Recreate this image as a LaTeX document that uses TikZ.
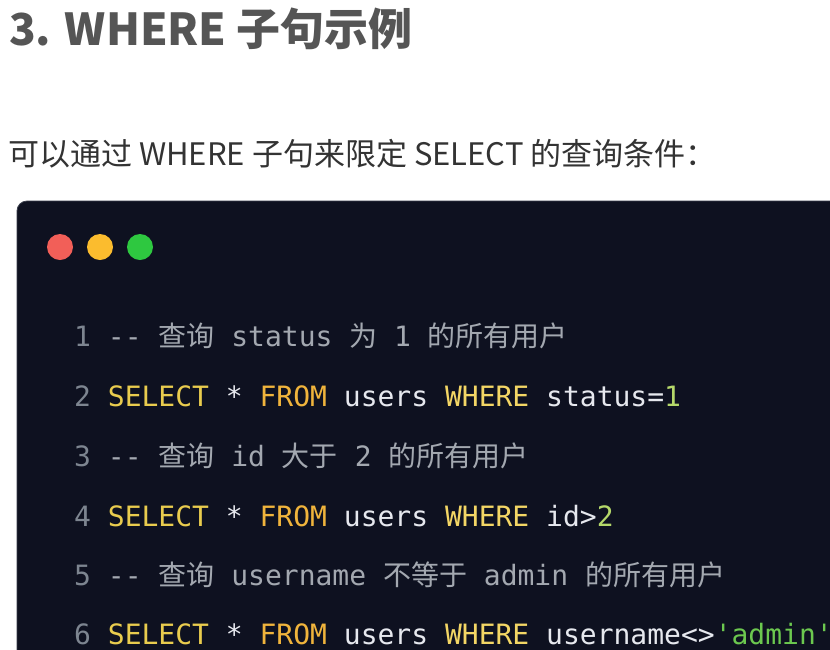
\documentclass[tikz,border=0pt]{standalone}
\usepackage{fontspec}
\setmonofont{DejaVu Sans Mono}
\newfontfamily\cjk{Noto Sans CJK SC}
\definecolor{titlec}{HTML}{555555}
\definecolor{subc}{HTML}{333333}
\definecolor{boxc}{HTML}{0E1120}
\definecolor{boxedge}{HTML}{3A3E4C}
\definecolor{lnc}{HTML}{7D8590}
\definecolor{cmc}{HTML}{A3A8B0}
\definecolor{kwsel}{HTML}{E9CC4E}
\definecolor{kwfrom}{HTML}{F0B43C}
\definecolor{kwwhere}{HTML}{F3D665}
\definecolor{plainc}{HTML}{E6E8EE}
\definecolor{numc}{HTML}{B5D86A}
\definecolor{strc}{HTML}{6CC84F}
\definecolor{dotr}{HTML}{F25F58}
\definecolor{doty}{HTML}{FBBC2E}
\definecolor{dotg}{HTML}{2EC840}
\newcommand{\cz}[1]{{\cjk #1}}
\newcommand{\lnum}[1]{\textcolor{lnc}{#1}}
\newcommand{\kS}{\textcolor{kwsel}{SELECT}}
\newcommand{\kF}{\textcolor{kwfrom}{FROM}}
\newcommand{\kW}{\textcolor{kwwhere}{WHERE}}
\tikzset{
  codeline/.style={anchor=base west, inner sep=0pt, text=plainc,
    font=\ttfamily\fontsize{28}{28}\selectfont},
  dotc/.style={circle, minimum size=26pt, inner sep=0pt},
}
\begin{document}
\begin{tikzpicture}[x=1pt,y=-1pt]
\useasboundingbox (0,0) rectangle (830,649);
\fill[white] (0,0) rectangle (830,649);
% title
\node[anchor=base west, inner sep=0pt, text=titlec,
  font=\cjk\bfseries\fontsize{44}{44}\selectfont] (title) at (9,45) {3. WHERE 子句示例};
\node[anchor=base west, inner sep=0pt, text=subc,
  font=\cjk\fontsize{31}{31}\selectfont] (sub) at (8,165) {可以通过 WHERE 子句来限定 SELECT 的查询条件：};
% code window
\path[fill=boxc, draw=boxedge, line width=0.8pt, rounded corners=10pt]
  (17,201) rectangle (860,700);
\node[dotc, fill=dotr] (red) at (60,247) {};
\node[dotc, fill=doty] (yel) at (100,247) {};
\node[dotc, fill=dotg] (grn) at (140,247) {};
% code lines
\node[codeline] (l1) at (74,346) {\lnum{1} \textcolor{cmc}{-{}- \cz{查询} status \cz{为} 1 \cz{的所有用户}}};
\node[codeline] (l2) at (74,406) {\lnum{2} \kS{} * \kF{} users \kW{} status=\textcolor{numc}{1}};
\node[codeline] (l3) at (74,466) {\lnum{3} \textcolor{cmc}{-{}- \cz{查询} id \cz{大于} 2 \cz{的所有用户}}};
\node[codeline] (l4) at (74,526) {\lnum{4} \kS{} * \kF{} users \kW{} id>\textcolor{numc}{2}};
\node[codeline] (l5) at (74,585) {\lnum{5} \textcolor{cmc}{-{}- \cz{查询} username \cz{不等于} admin \cz{的所有用户}}};
\node[codeline] (l6) at (74,644) {\lnum{6} \kS{} * \kF{} users \kW{} username<>\textcolor{strc}{'admin'}};
\end{tikzpicture}
\end{document}
